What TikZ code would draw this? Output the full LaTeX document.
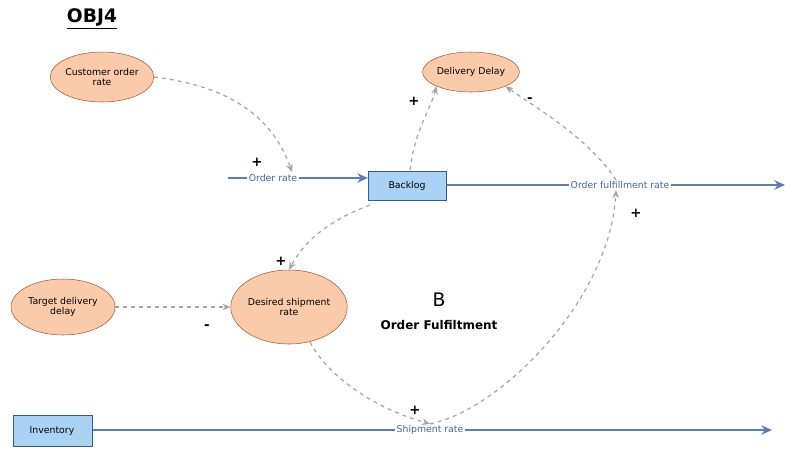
\documentclass[tikz,border=0pt]{standalone}
\usepackage{fontspec}
\setmainfont{DejaVu Sans}
\usetikzlibrary{shapes.geometric,arrows.meta}
\definecolor{flow}{RGB}{95,125,180}
\definecolor{ellf}{RGB}{250,203,170}
\definecolor{elld}{RGB}{150,95,60}
\definecolor{stockf}{RGB}{170,210,245}
\definecolor{stockd}{RGB}{60,90,130}
\definecolor{lnk}{RGB}{165,165,165}
\begin{document}
\begin{tikzpicture}[x=0.75pt,y=-0.75pt,
  aux/.style={ellipse,draw=elld,fill=ellf,font=\fontsize{7}{8}\selectfont,align=center,inner sep=0pt},
  stock/.style={rectangle,draw=stockd,fill=stockf,font=\fontsize{7}{8}\selectfont,anchor=north west},
  flowl/.style={draw=flow,line width=1.6pt,-{Stealth[length=8pt,width=7pt]}},
  flab/.style={fill=white,inner sep=1pt,text=flow!80!black,font=\fontsize{7}{8}\selectfont},
  link/.style={draw=lnk,dashed,line width=0.9pt,-{Stealth[length=6pt,width=5pt]}},
  pol/.style={font=\bfseries\fontsize{10}{10}\selectfont}]
\useasboundingbox (0,0) rectangle (800,458);
\node[font=\bfseries\fontsize{14}{14}\selectfont] (title) at (92,19) {\underline{OBJ4}};
\node[aux,minimum width=100pt*0.75,minimum height=50pt*0.75] (cor) at (102,77) {Customer order\\rate};
\node[aux,minimum width=96pt*0.75,minimum height=40pt*0.75] (dd) at (471,72) {Delivery Delay};
\node[stock,minimum width=78pt*0.75,minimum height=29pt*0.75] (bl) at (368,171) {};
\node[font=\fontsize{7}{8}\selectfont] at (407,186) {Backlog};
\node[aux,minimum width=104pt*0.75,minimum height=56pt*0.75] (tdd) at (63,307) {Target delivery\\delay};
\node[aux,minimum width=112pt*0.75,minimum height=74pt*0.75] (dsr) at (289,307) {Desired shipment\\rate};
\node[stock,minimum width=79pt*0.75,minimum height=31pt*0.75] (inv) at (13,415) {};
\node[font=\fontsize{7}{8}\selectfont] at (52,431) {Inventory};
\coordinate (orS) at (228,178);
\coordinate (ofE) at (785,185);
\coordinate (srE) at (772,430);
\draw[flowl] (orS) -- (bl.west|-orS);
\draw[flowl] (bl.east|-ofE) -- (ofE);
\draw[flowl] (inv.east|-srE) -- (srE);
\node[flab] (or) at (273,178) {Order rate};
\node[flab] (ofr) at (620,185) {Order fulfillment rate};
\node[flab] (sr) at (430,430) {Shipment rate};
\draw[link] (cor.east) .. controls (220,85) and (270,110) .. (292,172);
\draw[link] (410,170) .. controls (415,130) and (430,110) .. (dd.south west);
\draw[link] (616,180) .. controls (590,140) and (540,110) .. (dd.south east);
\draw[link] (370,205) .. controls (330,220) and (305,240) .. (dsr.north);
\draw[link] (tdd.east) -- (dsr.west);
\draw[link] (310,342) .. controls (330,380) and (380,410) .. (sr.north);
\draw[link] (sr.north) .. controls (500,410) and (610,300) .. (616,190);
\node[pol] at (257,162) {+};
\node[pol] at (414,101) {+};
\node[pol] at (530,100) {-};
\node[pol] at (636,213) {+};
\node[pol] at (281,261) {+};
\node[pol] at (207,327) {-};
\node[pol] at (415,410) {+};
\node[font=\fontsize{14}{14}\selectfont] (B) at (439,300) {B};
\node[font=\bfseries\fontsize{9}{10}\selectfont] (lp) at (439,325) {Order Fulfiltment};
\end{tikzpicture}
\end{document}
